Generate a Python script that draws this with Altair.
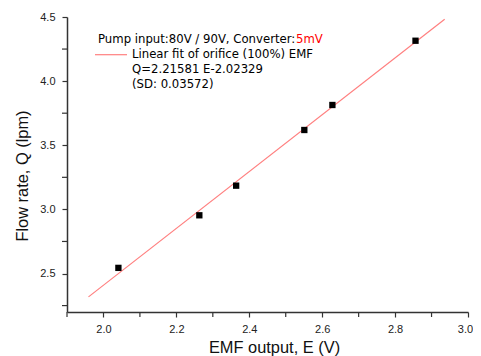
import altair as alt
import pandas as pd

# Measured points
emf = [2.041, 2.263, 2.364, 2.551, 2.628, 2.856]
flow = [2.544, 2.954, 3.185, 3.619, 3.814, 4.315]

# Linear fit line endpoints
fit_e = [1.959, 2.936]
fit_q = [2.318, 4.482]

x_major = [2.0, 2.2, 2.4, 2.6, 2.8, 3.0]
x_minor = [1.9, 2.1, 2.3, 2.5, 2.7, 2.9]
y_major = [2.5, 3.0, 3.5, 4.0, 4.5]
y_minor = [2.25, 2.75, 3.25, 3.75, 4.25]

legend_lines = ["Linear fit of orifice (100%) EMF", "Q=2.21581 E-2.02329", "(SD: 0.03572)"]
header_black = "Pump input:80V / 90V, Converter:"
header_red = "5mV"

pts = pd.DataFrame({"E": emf, "Q": flow})
fit = pd.DataFrame({"E": fit_e, "Q": fit_q})

FONT = "Liberation Sans"
LFONT = "DejaVu Sans"
AX = "#333333"
W, H = 401, 295

xscale = alt.Scale(domain=[1.9, 3.0], nice=False, zero=False)
yscale = alt.Scale(domain=[2.2, 4.5], nice=False, zero=False)

xaxis = alt.Axis(
    title="EMF output, E (V)", values=x_major, format=".1f",
    labelOverlap=False, labelFlush=False,
    labelOffset={"condition": {"test": "datum.value > 2.95", "value": -3}, "value": 0},
    grid=False, domainColor=AX, domainWidth=1.5, tickColor=AX, tickWidth=1.2,
    tickSize=5, labelFont=FONT, labelFontSize=11, labelColor="#222222",
    labelBaseline="alphabetic", labelPadding=15.5,
    titleFont=FONT, titleFontSize=16.4, titleFontWeight="normal", titleColor="#111111",
    titleBaseline="alphabetic", titleX=207, titleY=40.5,
)
yaxis = alt.Axis(
    title="Flow rate, Q (lpm)", values=y_major, format=".1f",
    labelOverlap=False, labelFlush=False,
    grid=False, domainColor=AX, domainWidth=1.5, tickColor=AX, tickWidth=1.2,
    tickSize=5, labelFont=FONT, labelFontSize=11, labelColor="#222222", labelPadding=7,
    titleFont=FONT, titleFontSize=16.4, titleFontWeight="normal", titleColor="#111111",
    titleBaseline="alphabetic", titleX=-39.3, titleY=158.5, titleAngle=270,
)

line = alt.Chart(fit).mark_line(color="#ff7f7f", strokeWidth=1.2).encode(
    x=alt.X("E:Q", scale=xscale, axis=xaxis),
    y=alt.Y("Q:Q", scale=yscale, axis=yaxis),
)
points = alt.Chart(pts).mark_square(color="black", size=40, opacity=1).encode(
    x=alt.X("E:Q", scale=xscale),
    y=alt.Y("Q:Q", scale=yscale),
)

xminor = alt.Chart(pd.DataFrame({"E": x_minor})).mark_rule(color=AX, strokeWidth=1.2).encode(
    x=alt.X("E:Q", scale=xscale), y=alt.value(H), y2=alt.value(H + 5)
)
yminor = alt.Chart(pd.DataFrame({"Q": y_minor})).mark_rule(color=AX, strokeWidth=1.2).encode(
    y=alt.Y("Q:Q", scale=yscale), x=alt.value(0), x2=alt.value(-5)
)

hdr = alt.Chart(pd.DataFrame({"t": [header_black]})).mark_text(
    align="left", baseline="alphabetic", font=LFONT, fontSize=11.7, color="black"
).encode(x=alt.value(31), y=alt.value(26.3), text="t:N")
hdr_red = alt.Chart(pd.DataFrame({"t": [header_red]})).mark_text(
    align="left", baseline="alphabetic", font=LFONT, fontSize=11.7, color="#ff0000"
).encode(x=alt.value(229), y=alt.value(26.3), text="t:N")

leg_df = pd.DataFrame({"t": legend_lines, "yy": [41.3, 56.3, 70.6]})
leg_text = alt.Chart(leg_df).mark_text(
    align="left", baseline="alphabetic", font=LFONT, fontSize=11.7, color="black"
).encode(x=alt.value(65), y=alt.Y("yy:Q", scale=None), text="t:N")
leg_line = alt.Chart(pd.DataFrame({"a": [0]})).mark_rule(color="#ff7f7f", strokeWidth=1.2).encode(
    x=alt.value(28), x2=alt.value(60), y=alt.value(37.7)
)

chart = alt.layer(line, points, xminor, yminor, hdr, hdr_red, leg_text, leg_line).properties(
    width=W, height=H,
    autosize=alt.AutoSizeParams(type="none"),
    padding={"left": 59, "top": 9, "right": 5, "bottom": 47},
).configure_view(stroke=None)

chart.save("out.html", embed_options={"renderer": "svg", "actions": False})
